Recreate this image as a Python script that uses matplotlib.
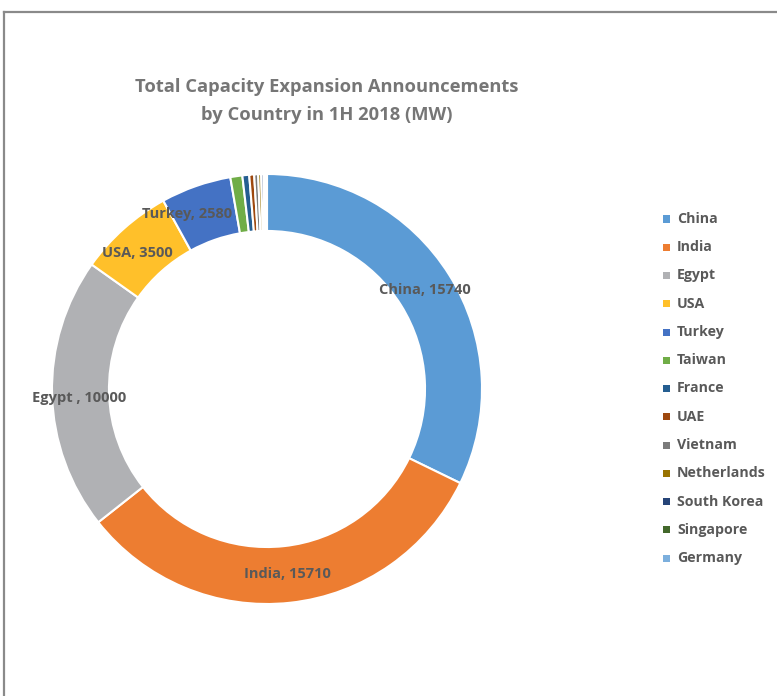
import numpy as np
import matplotlib
matplotlib.use("Agg")
import matplotlib.pyplot as plt
from matplotlib.lines import Line2D
from matplotlib.patches import Rectangle

plt.rcParams['font.family'] = ['Open Sans', 'DejaVu Sans']

countries = ["China", "India", "Egypt", "USA", "Turkey", "Taiwan", "France",
             "UAE", "Vietnam", "Netherlands", "South Korea", "Singapore", "Germany"]
capacity_mw = [15740, 15710, 10000, 3500, 2580, 440, 250, 180, 145, 110, 90, 70, 50]
label_texts = ["China, 15740", "India, 15710", "Egypt , 10000", "USA, 3500",
               "Turkey, 2580", "", "", "", "", "", "", "", ""]
colors = ["#5B9BD5", "#ED7D31", "#B0B1B4", "#FFC02A", "#4472C4", "#70AD47",
          "#255E91", "#9E480E", "#7B7B7B", "#997300", "#264478", "#43682B",
          "#7CAFDD"]

W, H = 777, 696
fig = plt.figure(figsize=(W / 100, H / 100), dpi=100)

# outer frame
fig.add_artist(Line2D([4 / W, 1.0], [1 - 12 / H, 1 - 12 / H], color="#8a8a8a", lw=1.6,
                      transform=fig.transFigure))
fig.add_artist(Line2D([4 / W, 4 / W], [0, 1 - 12 / H], color="#8a8a8a", lw=1.6,
                      transform=fig.transFigure))

cx, cy, R = 267, 389, 215
ax = fig.add_axes([(cx - R) / W, (H - cy - R) / H, 2 * R / W, 2 * R / H])
hole = 0.735
wedges, _ = ax.pie(capacity_mw, colors=colors, startangle=90, counterclock=False,
                   radius=1.0, wedgeprops=dict(width=1 - hole, edgecolor="white",
                                               linewidth=1.5))
ax.set_xlim(-1, 1)
ax.set_ylim(-1, 1)
ax.set_aspect("equal")
ax.axis("off")

# data labels sit on the ring's mid radius; crowded ones are nudged (points)
nudge = {"Egypt , 10000": (-1, -3), "USA, 3500": (-4, -2), "Turkey, 2580": (-13, -1)}
rmid = (1 + hole) / 2
for w, txt in zip(wedges, label_texts):
    if not txt:
        continue
    ang = np.deg2rad((w.theta1 + w.theta2) / 2)
    ax.annotate(txt, (rmid * np.cos(ang), rmid * np.sin(ang)),
                xytext=nudge.get(txt, (0, 0)), textcoords="offset points",
                ha="center", va="center", fontsize=10.5, fontweight="bold",
                color="#595959")

fig.text(327 / W, 1 - 87 / H, "Total Capacity Expansion Announcements",
         ha="center", va="center", fontsize=13.2, fontweight="bold", color="#767676")
fig.text(327 / W, 1 - 115 / H, "by Country in 1H 2018 (MW)",
         ha="center", va="center", fontsize=13.2, fontweight="bold", color="#767676")

# legend
y0, dy = 219, 28.25
for i, (name, col) in enumerate(zip(countries, colors)):
    y = y0 + i * dy
    fig.add_artist(Rectangle(((663) / W, 1 - (y + 3.5) / H), 7 / W, 7 / H,
                             facecolor=col, edgecolor="none",
                             transform=fig.transFigure))
    fig.text(677 / W, 1 - y / H, name, ha="left", va="center", fontsize=10.2,
             fontweight="bold", color="#595959")

fig.savefig("out.png", dpi=100)
